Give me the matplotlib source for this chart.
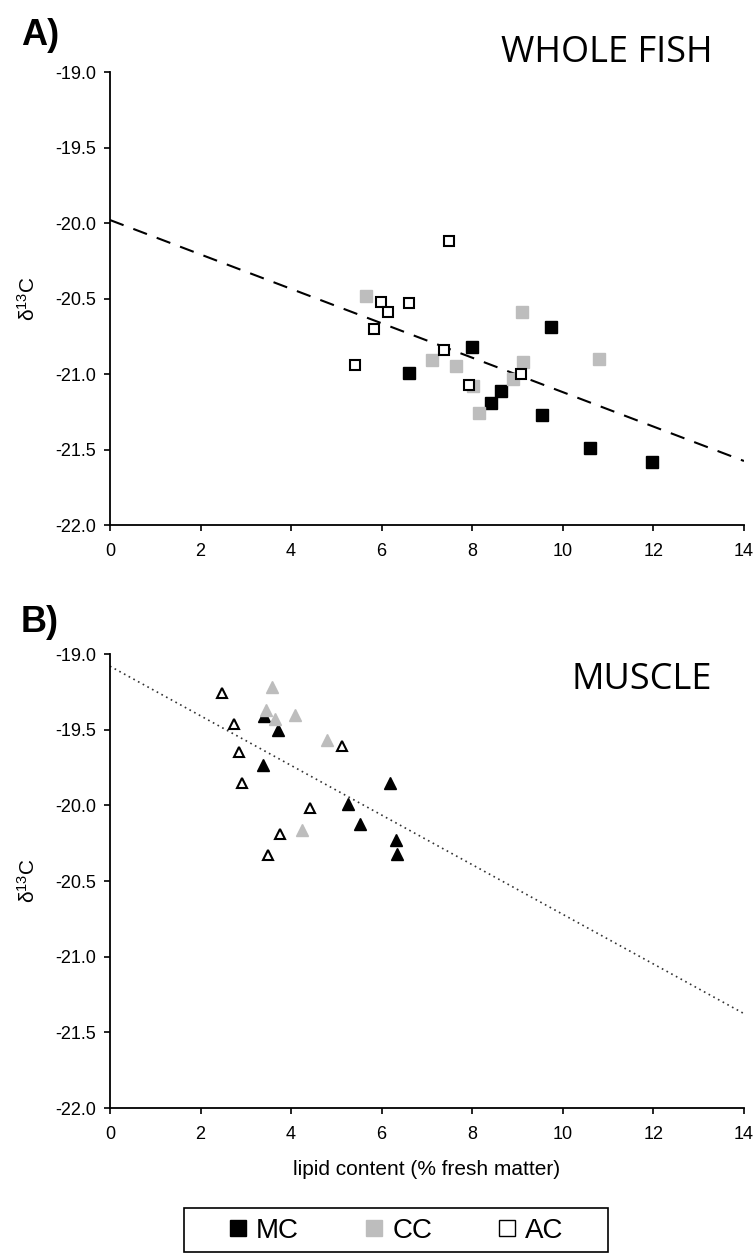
import matplotlib
matplotlib.use("Agg")
import numpy as np
import matplotlib.pyplot as plt
from matplotlib.lines import Line2D
from matplotlib.patches import Rectangle
from matplotlib.ticker import FormatStrFormatter

plt.rcParams["font.family"] = ["Liberation Sans", "DejaVu Sans"]
plt.rcParams["axes.unicode_minus"] = False
plt.rcParams["mathtext.default"] = "regular"

# panel A - whole fish (lipid %, d13C)
whole_mc_x = [6.61, 8.00, 8.41, 8.63, 9.53, 9.74, 10.61, 11.97]
whole_mc_y = [-20.99, -20.82, -21.19, -21.11, -21.27, -20.69, -21.49, -21.58]
whole_cc_x = [5.66, 7.12, 7.65, 8.02, 8.16, 8.89, 9.10, 9.12, 10.80]
whole_cc_y = [-20.48, -20.91, -20.95, -21.08, -21.26, -21.03, -20.59, -20.92, -20.90]
whole_ac_x = [5.41, 5.84, 5.98, 6.13, 6.61, 7.37, 7.49, 7.93, 9.08]
whole_ac_y = [-20.94, -20.70, -20.52, -20.59, -20.53, -20.84, -20.12, -21.07, -21.00]
whole_fit = (-19.98, -0.114)  # intercept, slope

# panel B - muscle
muscle_mc_x = [3.38, 3.41, 3.70, 5.26, 5.53, 6.18, 6.32, 6.34]
muscle_mc_y = [-19.73, -19.41, -19.50, -19.99, -20.12, -19.85, -20.23, -20.32]
muscle_cc_x = [3.45, 3.58, 3.65, 4.08, 4.24, 4.79]
muscle_cc_y = [-19.37, -19.22, -19.43, -19.40, -20.16, -19.57]
muscle_ac_x = [2.47, 2.74, 2.84, 2.91, 3.49, 3.76, 4.41, 5.13]
muscle_ac_y = [-19.26, -19.46, -19.65, -19.85, -20.33, -20.19, -20.02, -19.61]
muscle_fit = (-19.08, -0.164)

groups = ["MC", "CC", "AC"]
GRAY = "#bdbdbd"


def setup_axes(ax):
    ax.set_xlim(0, 14)
    ax.set_ylim(-22, -19)
    ax.set_xticks(np.arange(0, 15, 2))
    ax.set_yticks(np.arange(-22, -18.9, 0.5))
    ax.yaxis.set_major_formatter(FormatStrFormatter("%.1f"))
    ax.spines["top"].set_visible(False)
    ax.spines["right"].set_visible(False)
    for s in ["left", "bottom"]:
        ax.spines[s].set_linewidth(1.3)
    ax.tick_params(direction="out", length=4, width=1.2, labelsize=13)
    ax.tick_params(axis="x", pad=9)
    ax.tick_params(axis="y", pad=6)
    ax.set_ylabel("δ$^{13}$C", fontsize=15, labelpad=12)


def draw_panel(ax, mc, cc, ac, marker, fit, line_style):
    xs = np.array([0, 14])
    ax.plot(xs, fit[0] + fit[1] * xs, **line_style, zorder=1)
    ax.plot(mc[0], mc[1], marker, ls="none", ms=8, mfc="black", mec="black", zorder=2, clip_on=False)
    ax.plot(cc[0], cc[1], marker, ls="none", ms=8, mfc=GRAY, mec=GRAY, zorder=3, clip_on=False)
    ax.plot(ac[0], ac[1], marker, ls="none", ms=7.5, mfc="white", mec="black", mew=1.5, zorder=4, clip_on=False)


fig = plt.figure(figsize=(7.53, 12.53), dpi=100)
ax_a = fig.add_axes([0.146, 0.581, 0.842, 0.3615])
ax_b = fig.add_axes([0.146, 0.1157, 0.842, 0.3623])

setup_axes(ax_a)
setup_axes(ax_b)

draw_panel(ax_a, (whole_mc_x, whole_mc_y), (whole_cc_x, whole_cc_y), (whole_ac_x, whole_ac_y),
           "s", whole_fit, dict(color="black", lw=1.5, ls=(0, (7, 5))))
draw_panel(ax_b, (muscle_mc_x, muscle_mc_y), (muscle_cc_x, muscle_cc_y), (muscle_ac_x, muscle_ac_y),
           "^", muscle_fit, dict(color="#333333", lw=1.2, ls=(0, (1, 2.2))))

ax_b.set_xlabel("lipid content (% fresh matter)", fontsize=15, labelpad=12)

fig.text(0.028, 0.972, "A)", fontsize=26, fontweight="bold", va="center", ha="left")
fig.text(0.028, 0.503, "B)", fontsize=26, fontweight="bold", va="center", ha="left")
fig.text(0.946, 0.958, "WHOLE FISH", fontsize=26, family=["Open Sans", "DejaVu Sans"],
         ha="right", va="center")
fig.text(0.946, 0.457, "MUSCLE", fontsize=26, family=["Open Sans", "DejaVu Sans"],
         ha="right", va="center")

# legend box drawn separately so it can be wider than its contents
fig.add_artist(Rectangle((184 / 753, 1 - 1252 / 1253), 424 / 753, 44 / 1253,
                         transform=fig.transFigure, fill=False, ec="black", lw=1.2))
handles = [
    Line2D([], [], marker="s", ls="none", ms=11.5, mfc="black", mec="black"),
    Line2D([], [], marker="s", ls="none", ms=11.5, mfc=GRAY, mec=GRAY),
    Line2D([], [], marker="s", ls="none", ms=11.5, mfc="white", mec="black", mew=1.0),
]
fig.legend(handles, groups, loc="center", bbox_to_anchor=(394 / 753, 1 - 1231 / 1253), ncol=3,
           fontsize=20, frameon=False, handletextpad=0.15, columnspacing=2.2,
           borderpad=0.0, handlelength=1.0)

fig.savefig("out.png", dpi=100)
